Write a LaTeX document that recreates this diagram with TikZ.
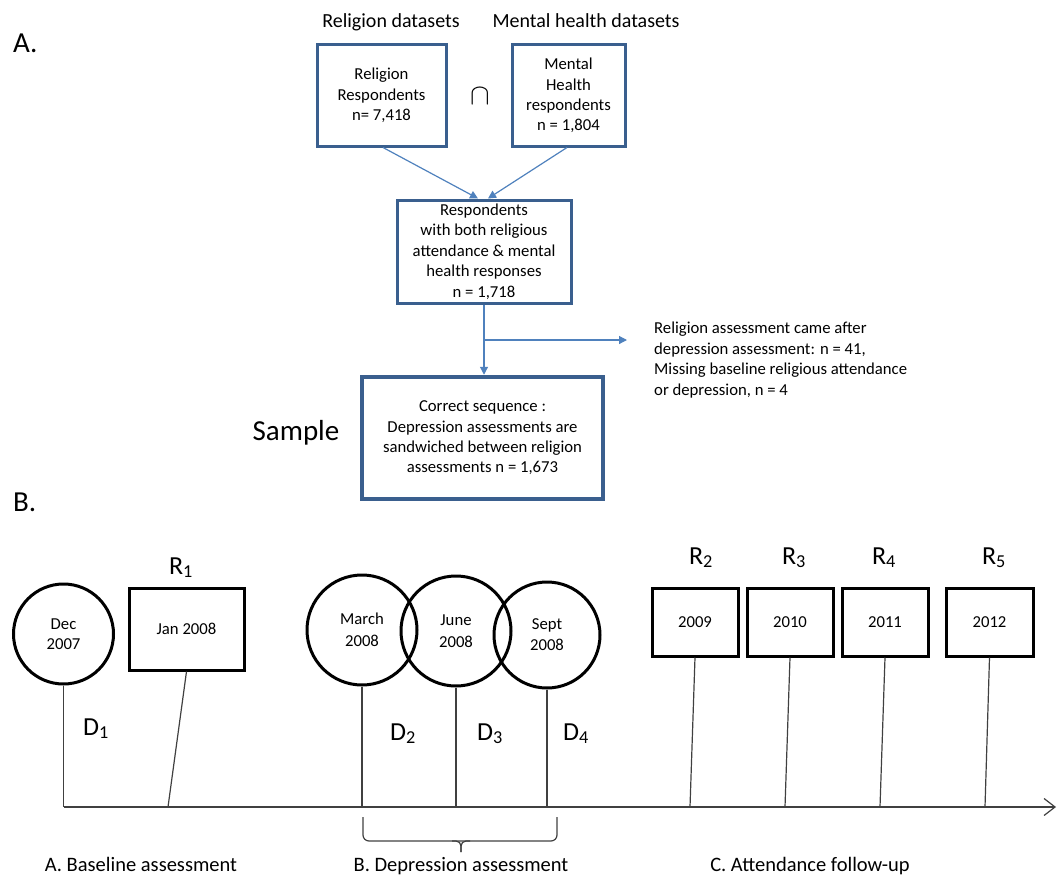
\documentclass[tikz,border=0pt]{standalone}
\usepackage{fontspec}
\usepackage{graphicx}
\setmainfont{Carlito}
\usetikzlibrary{arrows.meta}
\definecolor{boxblue}{HTML}{3A5F8E}
\definecolor{arrblue}{HTML}{4F81BD}
\definecolor{conn}{HTML}{404040}
\newcommand\myfs{\fontsize{16.7}{20.4}\selectfont}
\newcommand\myhead{\fontsize{20}{24}\selectfont}
\newcommand\mybig{\fontsize{29}{34}\selectfont}
\newcommand\mylab{\fontsize{26}{30}\selectfont}
\newcommand\mycap{\fontsize{20.5}{24}\selectfont}
\begin{document}
\begin{tikzpicture}[x=1pt,y=-1pt,
  bluebox/.style={draw=boxblue, line width=3pt, align=center, inner sep=0pt, font=\myfs},
  barrow/.style={draw=arrblue, line width=1.2pt, -{Triangle[length=8pt,width=8pt]}},
  blk/.style={draw=black, line width=3pt, inner sep=0pt, align=center, font=\myfs},
  conn/.style={draw=conn, line width=1.2pt},
  lab/.style={font=\mylab, inner sep=0pt, anchor=base},
  capt/.style={font=\mycap, inner sep=0pt, anchor=base}]
\useasboundingbox (0,0) rectangle (1063,875);

% ---- Part A ----
\node[font=\mybig, anchor=base west, inner sep=0pt] (la) at (13,53) {A.};
\node[font=\myhead, anchor=base, inner sep=0pt] (h1) at (391,28) {Religion datasets};
\node[font=\myhead, anchor=base, inner sep=0pt] (h2) at (586,28) {Mental health datasets};

\node[bluebox, minimum width=129, minimum height=101] (rel) at (381.5,95.5) {Religion\\Respondents\\n= 7,418};
\node[font=\myfs, inner sep=0pt] (cap) at (480,96) {\scalebox{1.7}{$\cap$}};
\node[bluebox, minimum width=113, minimum height=101] (mh) at (568.5,95.5) {Mental\\Health\\respondents\\n = 1,804};
\node[bluebox, minimum width=174, minimum height=103] (both) at (484,251.5) {Respondents\\with both religious\\attendance \& mental\\health responses\\n = 1,718};
\node[bluebox, line width=4.5pt, minimum width=241, minimum height=122] (samp) at (482.5,438) {Correct sequence :\\Depression assessments are\\sandwiched between religion\\assessments n = 1,673};
\node[font=\mybig, anchor=base, inner sep=0pt] (sl) at (296,440) {Sample};
\node[font=\myfs, align=left, anchor=west, inner sep=0pt] (excl) at (654,360) {Religion assessment came after\\depression assessment: n = 41,\\Missing baseline religious attendance\\or depression, n = 4};

\draw[barrow] ([xshift=1.5pt]rel.south) -- ([xshift=-6pt]both.north);
\draw[barrow] ([xshift=-1.5pt]mh.south) -- ([xshift=4pt]both.north);
\draw[barrow] (both.south) -- (both.south |- samp.north);
\coordinate (br) at (484,340);
\coordinate (brend) at (627,340);
\draw[barrow] (br) -- (brend);

% ---- Part B ----
\node[font=\mybig, anchor=base west, inner sep=0pt] (lb) at (13,511) {B.};

\node[blk, circle, minimum size=100] (d1) at (63.5,634) {Dec\\2007};
\node[blk, minimum width=115, minimum height=82] (r1) at (186.5,629) {Jan 2008};
\node[blk, circle, minimum size=110, font=\fontsize{16.7}{21.5}\selectfont] (d2) at (362,630) {March\\2008};
\node[blk, circle, minimum size=110, font=\fontsize{16.7}{21.5}\selectfont] (d3) at (456,631) {June\\2008};
\node[blk, circle, minimum size=106, font=\fontsize{16.7}{21}\selectfont] (d4) at (547,635) {Sept\\2008};
\node[blk, minimum width=86, minimum height=68] (r2) at (695,622) {2009};
\node[blk, minimum width=86, minimum height=68] (r3) at (790,622) {2010};
\node[blk, minimum width=86, minimum height=68] (r4) at (885,622) {2011};
\node[blk, minimum width=87, minimum height=68] (r5) at (989.5,622) {2012};

\node[lab] (lr1) at (181,574) {R\textsubscript{1}};
\node[lab] (lr2) at (701,564) {R\textsubscript{2}};
\node[lab] (lr3) at (794,564) {R\textsubscript{3}};
\node[lab] (lr4) at (884,564) {R\textsubscript{4}};
\node[lab] (lr5) at (994,564) {R\textsubscript{5}};
\node[lab] (ld1) at (96,735) {D\textsubscript{1}};
\node[lab] (ld2) at (403,740) {D\textsubscript{2}};
\node[lab] (ld3) at (490,740) {D\textsubscript{3}};
\node[lab] (ld4) at (576,740) {D\textsubscript{4}};

\coordinate (t0) at (63.5,807);
\coordinate (tend) at (1056,807);
\coordinate (t1) at (168,807);
\coordinate (t2) at (690,807);
\coordinate (t3) at (785,807);
\coordinate (t4) at (880,807);
\coordinate (t5) at (985,807);

\draw[conn, -{Straight Barb[length=11pt,width=17pt]}] (t0) -- (tend);
\draw[conn] (d1.south) -- (t0);
\draw[conn] (r1.south) -- (t1);
\draw[conn] (d2.south) -- (d2.south |- t0);
\draw[conn] (d3.south) -- (d3.south |- t0);
\draw[conn] (d4.south) -- (d4.south |- t0);
\draw[conn] (r2.south) -- (t2);
\draw[conn] (r3.south) -- (t3);
\draw[conn] (r4.south) -- (t4);
\draw[conn] (r5.south) -- (t5);

% brace
\draw[conn, rounded corners=6pt] (363,817) |- (461,841) -| (557,817);
\draw[conn, rounded corners=5pt] (452,841) -- (461,841) -- (461,852);
\draw[conn, rounded corners=5pt] (470,841) -- (461,841) -- (461,852);

\node[capt] (ca) at (141,871) {A. Baseline assessment};
\node[capt] (cb) at (461,871) {B. Depression assessment};
\node[capt] (cc) at (810,871) {C. Attendance follow-up};
\end{tikzpicture}
\end{document}
